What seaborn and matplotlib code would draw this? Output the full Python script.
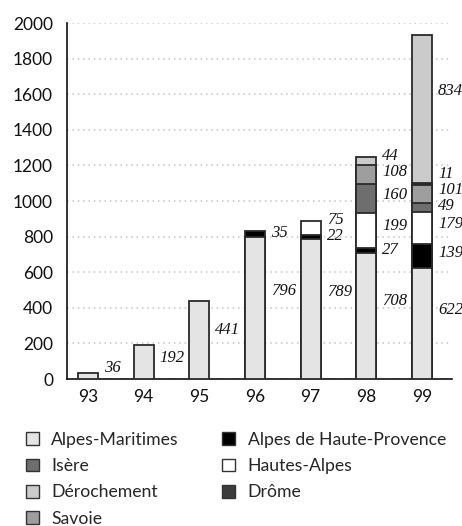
import matplotlib
matplotlib.use("Agg")
import matplotlib.pyplot as plt
import seaborn as sns
import pandas as pd
from matplotlib.patches import Patch

# ---- data ----
years = ["93", "94", "95", "96", "97", "98", "99"]
alpes_maritimes = [36, 192, 441, 796, 789, 708, 622]
alpes_haute_provence = [0, 0, 0, 35, 22, 27, 139]
hautes_alpes = [0, 0, 0, 0, 75, 199, 179]
isere = [0, 0, 0, 0, 0, 160, 49]
savoie = [0, 0, 0, 0, 0, 108, 101]
drome = [0, 0, 0, 0, 0, 0, 11]
derochement = [0, 0, 0, 0, 0, 44, 834]

series_names = ["Alpes-Maritimes", "Alpes de Haute-Provence", "Hautes-Alpes",
                "Isère", "Savoie", "Drôme", "Dérochement"]
series_values = [alpes_maritimes, alpes_haute_provence, hautes_alpes,
                 isere, savoie, drome, derochement]
series_colors = ["#e4e4e4", "#000000", "#ffffff", "#6e6e6e", "#9e9e9e", "#3c3c3c", "#cbcbcb"]
legend_order = ["Alpes-Maritimes", "Isère", "Dérochement", "Savoie",
                "Alpes de Haute-Provence", "Hautes-Alpes", "Drôme"]

sns.set_style("white")
plt.rcParams["font.family"] = ["Lato", "DejaVu Sans"]

fig = plt.figure(figsize=(4.62, 5.26), dpi=100)
ax = fig.add_axes([67 / 462, 1 - 379 / 526, (452 - 67) / 462, (379 - 23) / 526])

# build long table with cumulative tops
rows = []
for yi, yr in enumerate(years):
    cum = 0
    for name, vals in zip(series_names, series_values):
        v = vals[yi]
        bottom = cum
        cum += v
        rows.append(dict(year=yr, series=name, value=v, bottom=bottom, top=cum))
df = pd.DataFrame(rows)

# draw from top layer down, each as full bar to its cumulative top (stacking)
for name, color in reversed(list(zip(series_names, series_colors))):
    sub = df[(df.series == name) & (df.value > 0)]
    if sub.empty:
        continue
    sns.barplot(data=sub, x="year", y="top", order=years, color=color,
                width=0.36, edgecolor="#2a2a2a", linewidth=1.3,
                errorbar=None, saturation=1, ax=ax, zorder=3)

# value labels to the right of each bar
for yi, yr in enumerate(years):
    sub = df[(df.year == yr) & (df.value > 0)]
    last = None
    for _, r in sub.iterrows():
        y = r.bottom + 0.62 * r.value
        y = max(y, 60)
        if last is not None and y - last < 90:
            y = last + 90
        last = y
        ax.text(yi + 0.18 + 0.11, y, f"{int(r.value)}", ha="left", va="center",
                fontsize=12, style="italic", family="Liberation Serif",
                color="#111111", zorder=5)

ax.set_xlim(-0.377, 6.54)
ax.set_ylim(0, 2000)
ax.set_yticks(range(0, 2001, 200))
ax.set_xlabel("")
ax.set_ylabel("")
ax.yaxis.grid(True, linestyle=(0, (1, 2.5)), color="#c4c4c4", linewidth=1.1, zorder=0)
ax.xaxis.grid(False)
ax.set_axisbelow(True)
for s in ["top", "right"]:
    ax.spines[s].set_visible(False)
for s in ["left", "bottom"]:
    ax.spines[s].set_color("#111111")
    ax.spines[s].set_linewidth(1.2)
ax.tick_params(axis="y", length=0, pad=10, labelsize=12.5, labelcolor="#111111")
ax.tick_params(axis="x", length=0, pad=7, labelsize=12.5, labelcolor="#111111")

color_map = dict(zip(series_names, series_colors))
handles = [Patch(facecolor=color_map[n], edgecolor="#333333", linewidth=1.0, label=n)
           for n in legend_order]
fig.legend(handles=handles, loc="upper left", ncol=2, frameon=False,
           bbox_to_anchor=(26 / 462, 1 - 432 / 526), borderaxespad=0, borderpad=0,
           fontsize=12.7, handlelength=0.74, handleheight=0.74, handletextpad=0.7,
           labelspacing=0.58, columnspacing=2.45)

fig.savefig("out.png", dpi=100)
